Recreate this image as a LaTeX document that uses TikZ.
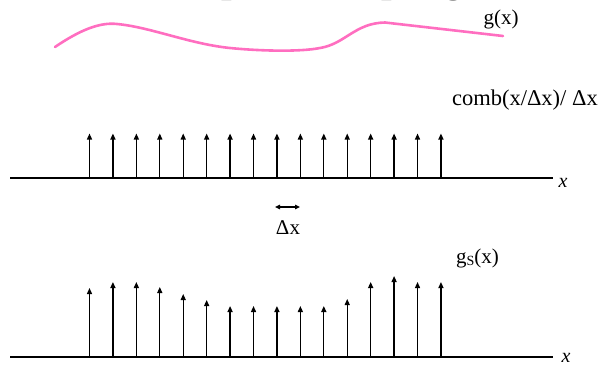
\documentclass[tikz,border=0pt]{standalone}
\usepackage{fontspec}
\setmainfont{Liberation Serif}
\usetikzlibrary{arrows.meta}
\definecolor{curvepink}{HTML}{FF6EC0}
\tikzset{
  axis/.style={line width=1.3pt},
  impulse/.style={line width=1.3pt,-{Triangle[length=6pt,width=5pt]}},
  lbl/.style={inner sep=0pt,font=\fontsize{21}{25}\selectfont},
  axlbl/.style={inner sep=0pt,font=\fontsize{20}{24}\selectfont\itshape},
}
\begin{document}
\begin{tikzpicture}[x=1pt,y=-1pt]
\useasboundingbox (0,0) rectangle (603,367);
% cut-off title
\node[anchor=base west,inner sep=0pt,font=\fontsize{38}{44}\selectfont\bfseries] (title) at (175,-8) {Impulse sampling};
% g(x) curve
\draw[curvepink,line width=2.6pt,line cap=round] (55,47) .. controls (80,30) and (100,22) .. (117,24)
  .. controls (150,27) and (190,44) .. (230,48)
  .. controls (260,51) and (300,52) .. (320,48)
  .. controls (345,44) and (355,23) .. (385,22.5)
  -- (503,36);
\node[lbl] (glbl) at (501,19) {g(x)};
% comb
\node[lbl,anchor=east,font=\fontsize{22.5}{26}\selectfont] (comblbl) at (598,100) {comb(x/Δx)/ Δx};
\coordinate (a1l) at (10,178);
\coordinate (a1r) at (553,178);
\draw[axis] (a1l) -- (a1r);
\node[axlbl] (x1) at (563,183) {x};
\foreach \i in {0,...,15}{
  \coordinate (cb\i) at ({89.5+23.43*\i},178);
  \coordinate (ct\i) at ({89.5+23.43*\i},133.5);
  \draw[impulse] (cb\i) -- (ct\i);
}
\coordinate (dxl) at (275,207);
\coordinate (dxr) at (300,207);
\draw[line width=1.3pt,{Triangle[length=5pt,width=4.5pt]}-{Triangle[length=5pt,width=4.5pt]}] (dxl) -- (dxr);
\node[lbl] (dxlbl) at (288,228) {Δx};
% sampled
\node[lbl,anchor=west] (gslbl) at (456,258) {g\raisebox{-0.3ex}{\fontsize{14}{16}\selectfont S}(x)};
\coordinate (a2l) at (10,357);
\coordinate (a2r) at (553,357);
\draw[axis] (a2l) -- (a2r);
\node[axlbl] (x2) at (566,358) {x};
\foreach \h [count=\i from 0] in {288,282,282,287,294,300,306,306,306,306,306,299,282,276,282,282}{
  \coordinate (sb\i) at ({89.5+23.43*\i},357);
  \coordinate (st\i) at ({89.5+23.43*\i},\h);
  \draw[impulse] (sb\i) -- (st\i);
}
\end{tikzpicture}
\end{document}
